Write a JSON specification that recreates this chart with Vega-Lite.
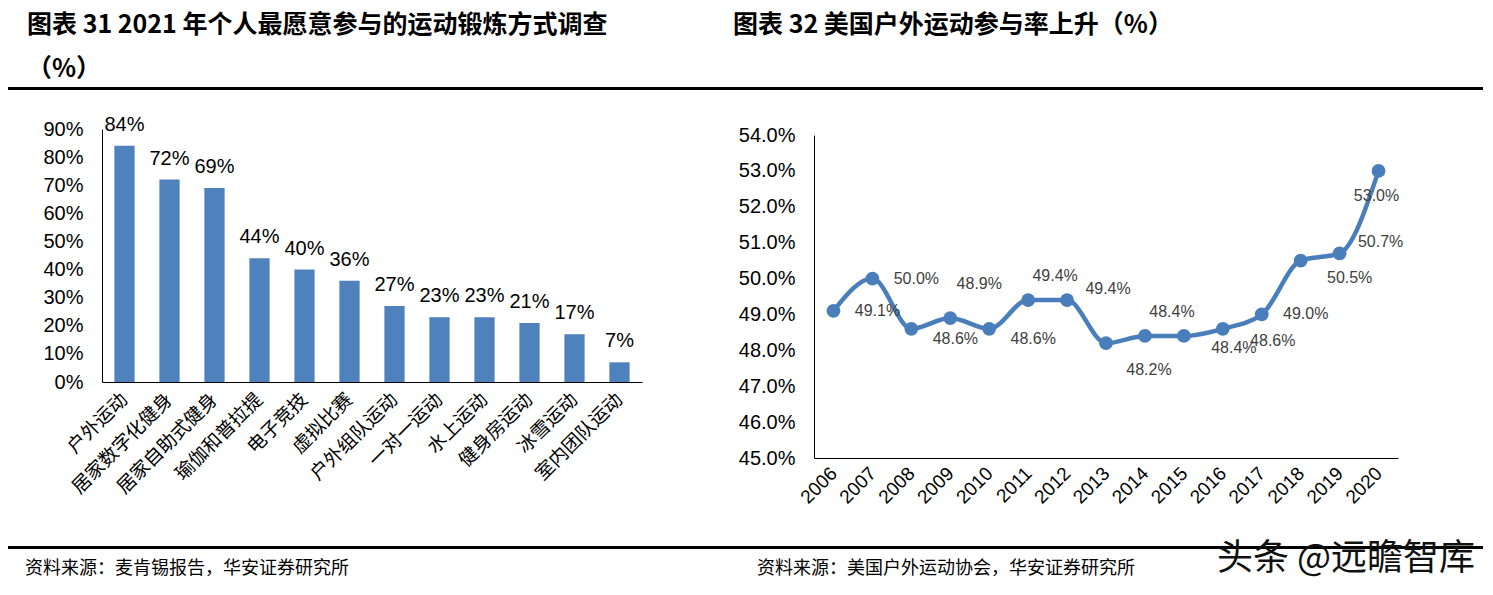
{
  "$schema": "https://vega.github.io/schema/vega-lite/v6.json",
  "background": "white",
  "padding": {"left": 8, "top": 13, "right": 8, "bottom": 4},
  "config": {
    "view": {"stroke": null},
    "title": {"font": "Noto Sans CJK SC", "color": "#000"},
    "axis": {"domainColor": "#000", "domainWidth": 1, "labelColor": "#000", "ticks": false, "tickSize": 0, "grid": false, "title": null}
  },
  "spacing": 0,
  "bounds": "flush",
  "vconcat": [
    {
      "spacing": 0,
      "bounds": "flush",
      "hconcat": [
        {
          "width": 705, "height": 3,
          "view": {"fill": "#000", "stroke": null},
          "data": {"values": []},
          "mark": "point",
          "title": {"text": ["图表 31 2021 年个人最愿意参与的运动锻炼方式调查", "（%）"], "anchor": "start", "frame": "group", "dx": 19, "offset": 5, "fontSize": 25, "fontWeight": "bold", "lineHeight": 44}
        },
        {
          "width": 770, "height": 3,
          "view": {"fill": "#000", "stroke": null},
          "data": {"values": []},
          "mark": "point",
          "title": {"text": ["图表 32 美国户外运动参与率上升（%）", " "], "anchor": "start", "frame": "group", "dx": 20, "offset": 5, "fontSize": 25, "fontWeight": "bold", "lineHeight": 44}
        }
      ]
    },
    {"width": 1, "height": 42, "data": {"values": []}, "mark": "point"},
    {
      "spacing": 0,
      "bounds": "flush",
      "hconcat": [
        {"width": 94, "height": 0, "data": {"values": []}, "mark": "point"},
        {
          "width": 540, "height": 253,
          "data": {"values": [
            {"item": "户外运动", "value": 0.84},
            {"item": "居家数字化健身", "value": 0.72},
            {"item": "居家自助式健身", "value": 0.69},
            {"item": "瑜伽和普拉提", "value": 0.44},
            {"item": "电子竞技", "value": 0.40},
            {"item": "虚拟比赛", "value": 0.36},
            {"item": "户外组队运动", "value": 0.27},
            {"item": "一对一运动", "value": 0.23},
            {"item": "水上运动", "value": 0.23},
            {"item": "健身房运动", "value": 0.21},
            {"item": "冰雪运动", "value": 0.17},
            {"item": "室内团队运动", "value": 0.07}
          ]},
          "encoding": {
            "x": {"field": "item", "type": "nominal", "sort": null,
                  "scale": {"paddingInner": 0.55, "paddingOuter": 0.275},
                  "axis": {"labelAngle": -45, "labelAlign": "right", "labelBaseline": "middle", "labelFont": "Noto Sans CJK SC", "labelFontSize": 19, "labelPadding": 14, "labelLimit": 300}},
            "y": {"field": "value", "type": "quantitative",
                  "scale": {"domain": [0, 0.9], "nice": false},
                  "axis": {"format": ".0%", "values": [0, 0.1, 0.2, 0.3, 0.4, 0.5, 0.6, 0.7, 0.8, 0.9], "labelFont": "Liberation Sans", "labelFontSize": 20, "labelPadding": 19}}
          },
          "layer": [
            {"mark": {"type": "bar", "color": "#4F81BD"}},
            {"mark": {"type": "text", "font": "Liberation Sans", "fontSize": 20, "color": "#000", "baseline": "alphabetic", "dy": -15},
             "encoding": {"text": {"field": "value", "format": ".0%"}}}
          ]
        },
        {"width": 172, "height": 0, "data": {"values": []}, "mark": "point"},
        {
          "spacing": 0,
          "bounds": "flush",
          "vconcat": [
            {"width": 1, "height": 6, "data": {"values": []}, "mark": "point"},
            {
              "width": 584, "height": 323,
              "data": {"values": [
                {"year": "2006", "value": 0.491},
                {"year": "2007", "value": 0.500},
                {"year": "2008", "value": 0.486},
                {"year": "2009", "value": 0.489},
                {"year": "2010", "value": 0.486},
                {"year": "2011", "value": 0.494},
                {"year": "2012", "value": 0.494},
                {"year": "2013", "value": 0.482},
                {"year": "2014", "value": 0.484},
                {"year": "2015", "value": 0.484},
                {"year": "2016", "value": 0.486},
                {"year": "2017", "value": 0.490},
                {"year": "2018", "value": 0.505},
                {"year": "2019", "value": 0.507},
                {"year": "2020", "value": 0.530}
              ]},
              "encoding": {
                "x": {"field": "year", "type": "ordinal", "sort": null,
                      "scale": {"type": "point", "padding": 0.5},
                      "axis": {"labelAngle": -45, "labelAlign": "right", "labelBaseline": "middle", "labelFont": "Liberation Sans", "labelFontSize": 19, "labelPadding": 12}},
                "y": {"field": "value", "type": "quantitative",
                      "scale": {"domain": [0.45, 0.54], "nice": false},
                      "axis": {"format": ".1%", "values": [0.45, 0.46, 0.47, 0.48, 0.49, 0.50, 0.51, 0.52, 0.53, 0.54], "labelFont": "Liberation Sans", "labelFontSize": 20, "labelPadding": 19}}
              },
              "layer": [
                {"mark": {"type": "line", "interpolate": "monotone", "color": "#4A7EBB", "strokeWidth": 4.5}},
                {"mark": {"type": "point", "filled": true, "size": 190, "color": "#4A7EBB", "opacity": 1}},
                {"transform": [{"filter": {"field": "year", "oneOf": ["2006", "2007", "2017"]}}],
                 "mark": {"type": "text", "font": "Liberation Sans", "fontSize": 16, "color": "#404040", "dx": 44, "dy": 0},
                 "encoding": {"text": {"field": "value", "format": ".1%"}}},
                {"transform": [{"filter": {"field": "year", "oneOf": ["2008", "2010"]}}],
                 "mark": {"type": "text", "font": "Liberation Sans", "fontSize": 16, "color": "#404040", "dx": 44, "dy": 10},
                 "encoding": {"text": {"field": "value", "format": ".1%"}}},
                {"transform": [{"filter": {"field": "year", "oneOf": ["2009"]}}],
                 "mark": {"type": "text", "font": "Liberation Sans", "fontSize": 16, "color": "#404040", "dx": 29, "dy": -34},
                 "encoding": {"text": {"field": "value", "format": ".1%"}}},
                {"transform": [{"filter": {"field": "year", "oneOf": ["2011", "2014"]}}],
                 "mark": {"type": "text", "font": "Liberation Sans", "fontSize": 16, "color": "#404040", "dx": 27, "dy": -24},
                 "encoding": {"text": {"field": "value", "format": ".1%"}}},
                {"transform": [{"filter": {"field": "year", "oneOf": ["2012", "2019"]}}],
                 "mark": {"type": "text", "font": "Liberation Sans", "fontSize": 16, "color": "#404040", "dx": 41, "dy": -11},
                 "encoding": {"text": {"field": "value", "format": ".1%"}}},
                {"transform": [{"filter": {"field": "year", "oneOf": ["2013"]}}],
                 "mark": {"type": "text", "font": "Liberation Sans", "fontSize": 16, "color": "#404040", "dx": 43, "dy": 27},
                 "encoding": {"text": {"field": "value", "format": ".1%"}}},
                {"transform": [{"filter": {"field": "year", "oneOf": ["2015", "2016"]}}],
                 "mark": {"type": "text", "font": "Liberation Sans", "fontSize": 16, "color": "#404040", "dx": 50, "dy": 12},
                 "encoding": {"text": {"field": "value", "format": ".1%"}}},
                {"transform": [{"filter": {"field": "year", "oneOf": ["2018"]}}],
                 "mark": {"type": "text", "font": "Liberation Sans", "fontSize": 16, "color": "#404040", "dx": 49, "dy": 17},
                 "encoding": {"text": {"field": "value", "format": ".1%"}}},
                {"transform": [{"filter": {"field": "year", "oneOf": ["2020"]}}],
                 "mark": {"type": "text", "font": "Liberation Sans", "fontSize": 16, "color": "#404040", "dx": -2, "dy": 25},
                 "encoding": {"text": {"field": "value", "format": ".1%"}}}
              ]
            }
          ]
        }
      ]
    },
    {"width": 1, "height": 417, "data": {"values": []}, "mark": "point"},
    {
      "spacing": 0,
      "bounds": "flush",
      "hconcat": [
        {
          "width": 705, "height": 3,
          "view": {"fill": "#000", "stroke": null},
          "data": {"values": []},
          "mark": "point",
          "title": {"text": "资料来源：麦肯锡报告，华安证券研究所", "orient": "bottom", "anchor": "start", "frame": "group", "dx": 17, "offset": 11, "fontSize": 18, "fontWeight": "normal"}
        },
        {
          "width": 480, "height": 3,
          "view": {"fill": "#000", "stroke": null},
          "data": {"values": []},
          "mark": "point",
          "title": {"text": "资料来源：美国户外运动协会，华安证券研究所", "orient": "bottom", "anchor": "start", "frame": "group", "dx": 44, "offset": 11, "fontSize": 18, "fontWeight": "normal"}
        },
        {
          "width": 290, "height": 3,
          "view": {"fill": "#000", "stroke": null},
          "data": {"values": []},
          "mark": "point",
          "title": {"text": "头条 @远瞻智库", "orient": "bottom", "anchor": "end", "frame": "group", "dx": -8, "offset": -7, "fontSize": 36, "fontWeight": "normal", "color": "#111"}
        }
      ]
    }
  ]
}
